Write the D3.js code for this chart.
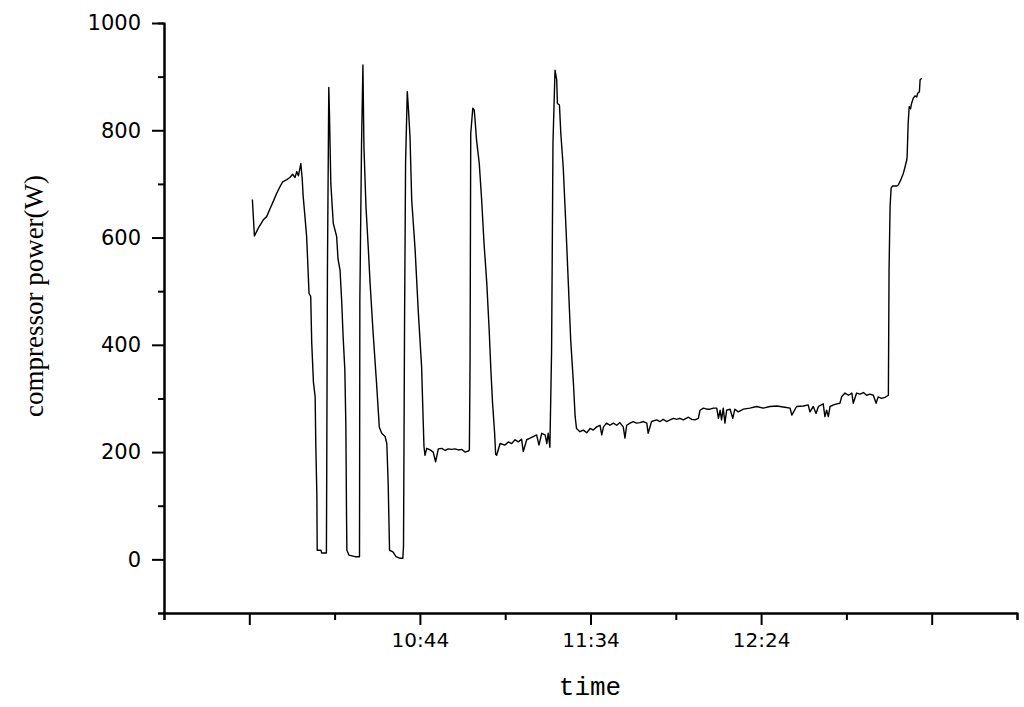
<!DOCTYPE html>
<html>
<head>
<meta charset="utf-8">
<script src="https://cdn.jsdelivr.net/npm/d3@7"></script>
<style>
	body { margin: 0; background: #fff; }
</style>
</head>
<body>
<div id="chart"></div>
<script>
// clock time of the first axis tick, minutes after it for every sample
var startTime = "9:29";
var endTime = "13:39";

var elapsedMin = [
	25.9, 26.5, 27.6, 29.1, 30.1, 31.1, 32.0, 33.0, 34.0, 34.8, 36.0, 36.9, 37.7, 38.4, 38.9, 39.4, 40.1, 40.5,
	40.8, 41.3, 41.8, 42.1, 42.5, 43.0, 43.3, 43.8, 44.3, 44.5, 44.8, 44.9, 46.0, 46.2, 47.6,
	47.7, 47.9, 48.3, 48.5, 48.7, 48.9, 49.6, 50.6, 51.0, 51.6, 52.1, 52.5, 53.0, 53.3, 53.5, 53.6, 54.2, 56.0, 57.3,
	57.4, 57.9, 58.3, 58.6, 59.2, 59.9, 60.4, 61.3, 62.3, 63.1, 63.8, 64.8, 65.3, 65.7, 66.1, 67.1, 68.0, 69.2, 70.0,
	70.2, 70.5, 70.8, 71.3, 71.6, 72.1, 72.6, 73.6, 74.5, 75.5, 76.0, 76.2, 76.5, 77.0, 78.0, 78.9, 79.6, 80.4,
	81.4, 82.4, 83.3, 84.3, 85.3, 86.3, 87.3, 88.2, 89.2, 89.5,
	89.7, 89.9, 90.5, 90.9, 91.1, 91.6, 92.4, 93.1, 93.8, 94.6, 95.3, 95.8, 96.3, 96.9, 97.2,
	97.5, 98.5, 99.9, 100.9, 101.9, 102.9, 103.8, 104.8, 105.3, 106.3, 107.3, 108.2, 109.2, 109.9, 110.7, 111.7,
	112.2, 112.6, 113.1,
	113.6, 114.0, 114.6, 115.1, 115.3, 115.9, 116.3, 117.0, 117.8, 118.5, 119.2, 120.0, 120.5, 120.9,
	121.9, 122.9, 123.9, 124.9, 125.8, 126.8, 127.8, 128.3, 128.8, 129.7, 130.7, 131.7, 132.7, 133.6, 134.6, 135.1,
	135.6, 136.6, 137.5, 138.5, 139.5, 140.5, 141.5, 141.9, 142.9, 144.4, 145.4, 146.3, 147.3, 148.3, 149.3, 150.3,
	151.2, 152.2, 153.7, 154.7, 155.6, 156.6, 157.1, 158.1, 159.1, 160.0, 161.0, 162.0, 162.5, 163.0, 163.4, 163.9,
	164.4, 164.9, 165.9, 166.7, 167.3, 168.3, 169.8, 171.7, 173.7, 175.6, 177.6, 179.6, 181.5, 183.5, 184.0, 185.4,
	187.4, 188.8, 189.3, 190.3, 191.1, 191.8, 193.2, 193.7, 194.2, 194.7, 195.2, 196.2, 197.2, 198.1, 198.6, 199.6,
	200.6, 201.6, 202.0, 203.0, 204.0, 205.0, 205.9, 206.9, 207.9, 208.7, 209.3, 210.3, 211.3, 212.3,
	212.5, 212.8, 213.1, 213.5, 214.7, 215.2, 215.9, 216.7, 217.2, 217.7, 217.8, 218.1, 218.4, 218.8, 219.1, 219.6,
	220.1, 220.6, 220.9, 221.4, 221.6, 222.1
];

var powerW = [
	671, 603, 617, 633, 639, 654, 667, 682, 695, 704, 708, 712, 718, 712, 723, 715, 738, 710,
	676, 640, 602, 558, 496, 490, 403, 330, 303, 210, 120, 17, 17, 12, 12,
	173, 539, 880, 830, 763, 700, 627, 602, 560, 539, 478, 415, 353, 250, 79, 17, 8, 5, 5,
	483, 776, 922, 769, 657, 577, 515, 421, 328, 247, 235, 229, 216, 142, 17, 14, 5, 2, 2,
	25, 440, 739, 872, 844, 788, 670, 577, 465, 359, 250, 210, 194, 207, 204, 200, 182, 206,
	207, 203, 206, 205, 206, 204, 205, 200, 202, 204,
	366, 794, 841, 838, 825, 782, 738, 670, 589, 515, 428, 353, 291, 235, 196,
	194, 216, 213, 219, 216, 223, 219, 224, 201, 223, 226, 229, 232, 213, 235, 232,
	216, 235, 209,
	390, 776, 912, 894, 850, 847, 794, 732, 620, 515, 409, 328, 266, 244,
	238, 241, 236, 244, 241, 247, 250, 232, 247, 254, 250, 254, 250, 255, 247, 226,
	250, 254, 257, 254, 255, 257, 254, 235, 257, 260, 257, 261, 257, 260, 263, 261,
	263, 260, 265, 261, 260, 263, 278, 282, 280, 280, 282, 282, 263, 278, 260, 282,
	254, 278, 280, 263, 280, 275, 280, 282, 285, 282, 285, 286, 284, 282, 269, 285,
	286, 288, 275, 285, 272, 285, 290, 266, 278, 266, 285, 288, 290, 291, 303, 310,
	306, 310, 291, 310, 308, 311, 306, 308, 306, 291, 303, 300, 302, 306,
	539, 657, 692, 696, 696, 698, 707, 720, 732, 745, 751, 813, 844, 840, 850, 860,
	864, 862, 869, 872, 894, 897
];

var tickTimes = ["9:54", "10:44", "11:34", "12:24", "13:14"];
var tickLabels = ["", "10:44", "11:34", "12:24", ""];
var yTicks = [0, 200, 400, 600, 800, 1000];
var yMinorTicks = [-100, 100, 300, 500, 700, 900];

function clockToMin(s) {
	var p = s.split(':');
	return +p[0] * 60 + +p[1];
}

function createLineChart(elementName) {
	var svgWidth = 1024, svgHeight = 707;
	var margins = {top: 23, right: 7, bottom: 94, left: 164};
	var width = svgWidth - margins.left - margins.right;
	var height = svgHeight - margins.top - margins.bottom;

	var t0 = clockToMin(startTime);
	var xscale = d3.scaleLinear().domain([t0, clockToMin(endTime)]).range([0, width]);
	var yscale = d3.scaleLinear().domain([-100, 1000]).range([height, 0]);

	var svg = d3.select(elementName)
		.append('svg')
		.attr('width', svgWidth)
		.attr('height', svgHeight)
		.style('background', '#fff');

	var g = svg.append('g')
		.attr('transform', 'translate(' + margins.left + ', ' + margins.top + ')');

	var minorX = d3.range(t0, clockToMin(endTime) + 1, 25).filter(function(m) {
		return tickTimes.map(clockToMin).indexOf(m) < 0;
	});

	// minor ticks first, then the labelled axes on top
	var xminor = g.append('g').attr('transform', 'translate(0, ' + height + ')');
	d3.axisBottom(xscale).tickValues(minorX).tickSize(7).tickFormat('')(xminor);

	var yminor = g.append('g');
	d3.axisLeft(yscale).tickValues(yMinorTicks).tickSize(6).tickFormat('')(yminor);

	var hguide = g.append('g').attr('transform', 'translate(0, ' + height + ')');
	d3.axisBottom(xscale)
		.tickValues(tickTimes.map(clockToMin))
		.tickSize(12)
		.tickSizeOuter(0)
		.tickPadding(8)
		.tickFormat(function(d, i) { return tickLabels[i]; })(hguide);

	var vguide = g.append('g');
	d3.axisLeft(yscale)
		.tickValues(yTicks)
		.tickSize(12)
		.tickSizeOuter(0)
		.tickPadding(11)
		.tickFormat(d3.format('d'))(vguide);

	g.selectAll('.domain, .tick line')
		.style('stroke', 'black')
		.style('stroke-width', 2);
	hguide.selectAll('text')
		.style('font-family', 'DejaVu Sans')
		.style('font-size', '20px')
		.style('fill', 'black');
	vguide.selectAll('text')
		.style('font-family', 'DejaVu Sans')
		.style('font-size', '21px')
		.style('fill', 'black');

	var line = d3.line()
		.x(function(d, i) { return xscale(t0 + elapsedMin[i]); })
		.y(function(d) { return yscale(d); });

	g.append('path')
		.datum(powerW)
		.attr('d', line)
		.style('fill', 'none')
		.style('stroke', 'black')
		.style('stroke-width', 1.4)
		.style('stroke-linejoin', 'round');

	svg.append('text')
		.attr('transform', 'translate(43, 296) rotate(-90)')
		.attr('text-anchor', 'middle')
		.style('font-family', 'Liberation Serif')
		.style('font-size', '27px')
		.text('compressor power(W)');

	svg.append('text')
		.attr('x', 590)
		.attr('y', 695)
		.attr('text-anchor', 'middle')
		.style('font-family', 'Liberation Mono')
		.style('font-size', '26px')
		.text('time');
}

createLineChart('#chart');
</script>
</body>
</html>
